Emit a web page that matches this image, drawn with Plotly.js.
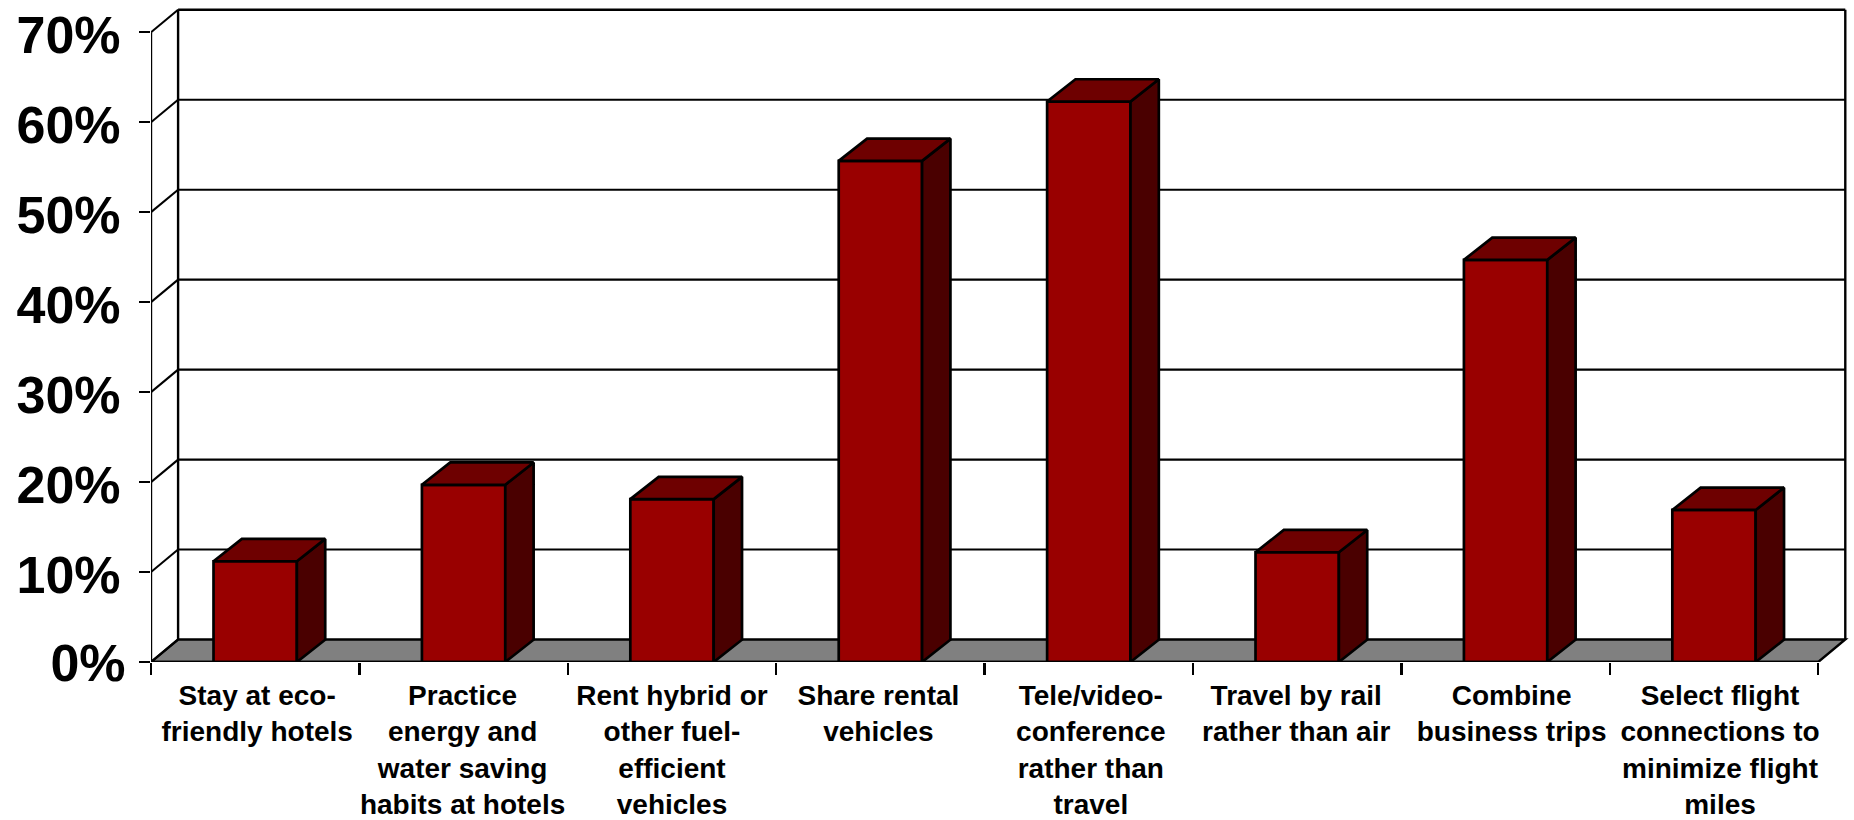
<!DOCTYPE html>
<html>
<head>
<meta charset="utf-8">
<script src="https://cdn.plot.ly/plotly-3.0.1.min.js"></script>
<style>html,body{margin:0;padding:0;background:#fff;overflow:hidden}</style>
</head>
<body>
<div id="chart" style="width:1854px;height:820px"></div>
<script>
const categories = [
  "Stay at eco-<br>friendly hotels",
  "Practice<br>energy and<br>water saving<br>habits at hotels",
  "Rent hybrid or<br>other fuel-<br>efficient<br>vehicles",
  "Share rental<br>vehicles",
  "Tele/video-<br>conference<br>rather than<br>travel",
  "Travel by rail<br>rather than air",
  "Combine<br>business trips",
  "Select flight<br>connections to<br>minimize flight<br>miles"
];
const values = [11.2, 19.7, 18.1, 55.7, 62.3, 12.2, 44.7, 16.9];
const yTicks = [0, 10, 20, 30, 40, 50, 60, 70];
const yTickText = ["0%", "10%", "20%", "30%", "40%", "50%", "60%", "70%"];

const N = categories.length;
const barWidth = 0.4;
const wallDX = 0.13, wallDY = 2.5;   // depth of the chart box
const barDX = 0.136, barDY = 2.48;   // depth of each bar
const W = 1854, H = 820, L = 151, R = 4, T = 6, B = 158;
const pxPerCat = 208.4, pxPerPct = 8.996;
const labelNudgePx = [2, -1, 0, -2, 2, -1, 6, 6];

const centers = categories.map((_, i) => i + 0.5);
const labelPos = centers.map((c, i) => c + labelNudgePx[i] / pxPerCat);

// front faces
const front = {
  type: "bar", x: centers, y: values, width: barWidth,
  marker: {color: "#990000", line: {color: "#000", width: 2.7}},
  cliponaxis: false, hoverinfo: "y", showlegend: false
};

// depth faces, computed from the same values
const topX = [], topY = [], sideX = [], sideY = [];
centers.forEach((c, i) => {
  const l = c - barWidth / 2, r = c + barWidth / 2, v = values[i];
  topX.push(l, r, r + barDX, l + barDX, l, null);
  topY.push(v, v, v + barDY, v + barDY, v, null);
  sideX.push(r, r + barDX, r + barDX, r, r, null);
  sideY.push(0, barDY, v + barDY, v, 0, null);
});
const face = (x, y, color) => ({
  type: "scatter", mode: "lines", x, y, fill: "toself", fillcolor: color,
  line: {color: "#000", width: 2.7}, hoverinfo: "skip", showlegend: false, cliponaxis: false
});
const tops = face(topX, topY, "#6e0000");
const sides = face(sideX, sideY, "#4a0000");

// front frame (on the overlaid axis that also carries the 0% label)
const yTop = yTicks[yTicks.length - 1];
const frame = {
  type: "scatter", mode: "lines", x: [0, 0, N], y: [yTop, 0, 0], yaxis: "y2",
  line: {color: "#000", width: 2.4}, hoverinfo: "skip", showlegend: false, cliponaxis: false
};

// back box: floor, walls, gridlines
const seg = (x0, y0, x1, y1, w) => ({
  type: "line", layer: "below", xref: "x", yref: "y", x0, y0, x1, y1, line: {color: "#000", width: w}
});
const shapes = [{
  type: "path", layer: "below", xref: "x", yref: "y",
  path: `M0,0 L${N},0 L${N + wallDX},${wallDY} L${wallDX},${wallDY} Z`,
  fillcolor: "#808080", line: {color: "#000", width: 2.4}
}];
shapes.push(seg(wallDX, wallDY, wallDX, yTop + wallDY, 2.4));
shapes.push(seg(N + wallDX, wallDY, N + wallDX, yTop + wallDY, 2.4));
yTicks.forEach(v => {
  const w = v === yTop ? 2.6 : 2.1;
  shapes.push(seg(0, v, wallDX, v + wallDY, 2.1));
  if (v > 0) shapes.push(seg(wallDX, v + wallDY, N + wallDX, v + wallDY, w));
});

const font = "'Liberation Sans', Arial, sans-serif";
const yRange = [0, (H - T - B) / pxPerPct];
const yTickFont = {family: font, size: 52, weight: 700, color: "#000"};

const layout = {
  width: W, height: H, paper_bgcolor: "#fff", plot_bgcolor: "#fff",
  margin: {l: L, r: R, t: T, b: B, pad: 0},
  bargap: 0, showlegend: false, shapes,
  font: {family: font, color: "#000"},
  xaxis: {
    range: [0, (W - L - R) / pxPerCat], tickmode: "array", tickvals: labelPos, ticktext: categories,
    ticks: "", ticklen: 12, showgrid: false, zeroline: false, showline: false, automargin: false,
    tickangle: 0, ticklabelstandoff: 14,
    tickfont: {family: font, size: 28, weight: 700, color: "#000"},
    minor: {tickmode: "array", tickvals: [0, 1, 2, 3, 4, 5, 6, 7, 8], ticks: "outside", ticklen: 12,
            tickwidth: 2.4, tickcolor: "#000", showgrid: false}
  },
  yaxis: {
    range: yRange, tickmode: "array", tickvals: yTicks.slice(1), ticktext: yTickText.slice(1),
    ticks: "outside", ticklen: 11, tickwidth: 2.4, tickcolor: "#000",
    showgrid: false, zeroline: false, showline: false, automargin: false,
    ticklabelstandoff: 8, ticklabelshift: 3, tickfont: yTickFont
  },
  yaxis2: {
    overlaying: "y", side: "left", anchor: "x",
    range: yRange, tickmode: "array", tickvals: yTicks.slice(0, 1), ticktext: yTickText.slice(0, 1),
    ticks: "outside", ticklen: 11, tickwidth: 2.4, tickcolor: "#000",
    showgrid: false, zeroline: false, showline: false, automargin: false,
    ticklabelstandoff: 3, ticklabelshift: 1, tickfont: yTickFont
  }
};
Plotly.newPlot("chart", [front, sides, tops, frame], layout, {displayModeBar: false, staticPlot: true});
</script>
</body>
</html>
